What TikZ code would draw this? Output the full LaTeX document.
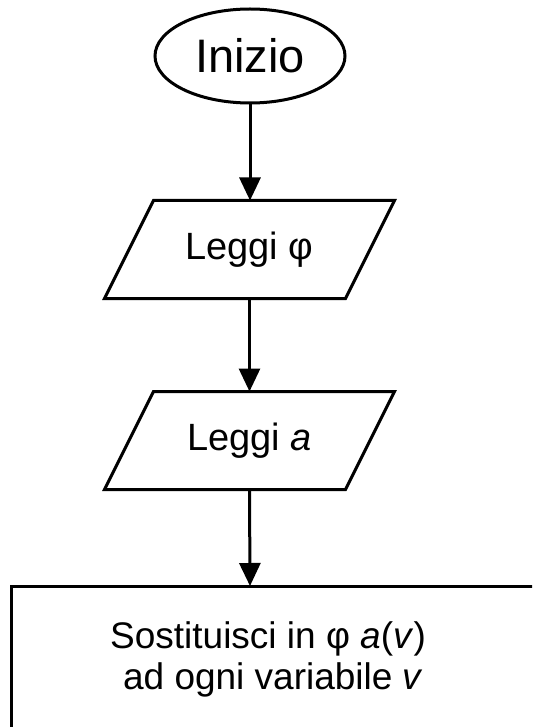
\documentclass[tikz,border=0pt]{standalone}
\usepackage{fontspec}
\setmainfont{Liberation Sans}
\usetikzlibrary{arrows.meta,shapes.geometric}
\begin{document}
\begin{tikzpicture}[x=1pt,y=-1pt,
  line width=3pt,
  flowarrow/.style={-{Triangle[length=23pt,width=21pt]}, line width=3pt},
  ghost/.style={draw=none, inner sep=0pt, minimum width=287pt, minimum height=95pt, font=\fontsize{38}{44}\selectfont},
]
\useasboundingbox (0,0) rectangle (532,727);
\clip (0,0) rectangle (532,727);
% start
\node[draw, ellipse, minimum width=190pt, minimum height=94pt, inner sep=0pt, font=\fontsize{47}{54}\selectfont] (start) at (250,56)
  {Inizio};
% read phi
\node[ghost] (p1) at (249.5,249.5) {Leggi φ};
\draw ([xshift=49pt]p1.north west) -- (p1.north east) -- ([xshift=-49pt]p1.south east) -- (p1.south west) -- cycle;
% read a
\node[ghost] (p2) at (249.5,440.5) {Leggi \textit{a}};
\draw ([xshift=49pt]p2.north west) -- (p2.north east) -- ([xshift=-49pt]p2.south east) -- (p2.south west) -- cycle;
% process box (only its top-left part lies on the page)
\coordinate (procnw) at (11,586);
\coordinate (proctop) at (250,586);
\draw (560,586) -- (procnw) -- (11,760);
\node[align=center, inner sep=0pt, font=\fontsize{37}{41}\selectfont] (proctext) at (268,659)
  {Sostituisci in φ \textit{a}(\textit{v})\\ \mbox{} ad ogni variabile \textit{v}};
% connectors
\draw[flowarrow] (start.south) -- (start.south |- p1.north);
\draw[flowarrow] (p1.south) -- (p1.south |- p2.north);
\draw[flowarrow] (p2.south) -- (proctop);
\end{tikzpicture}
\end{document}
